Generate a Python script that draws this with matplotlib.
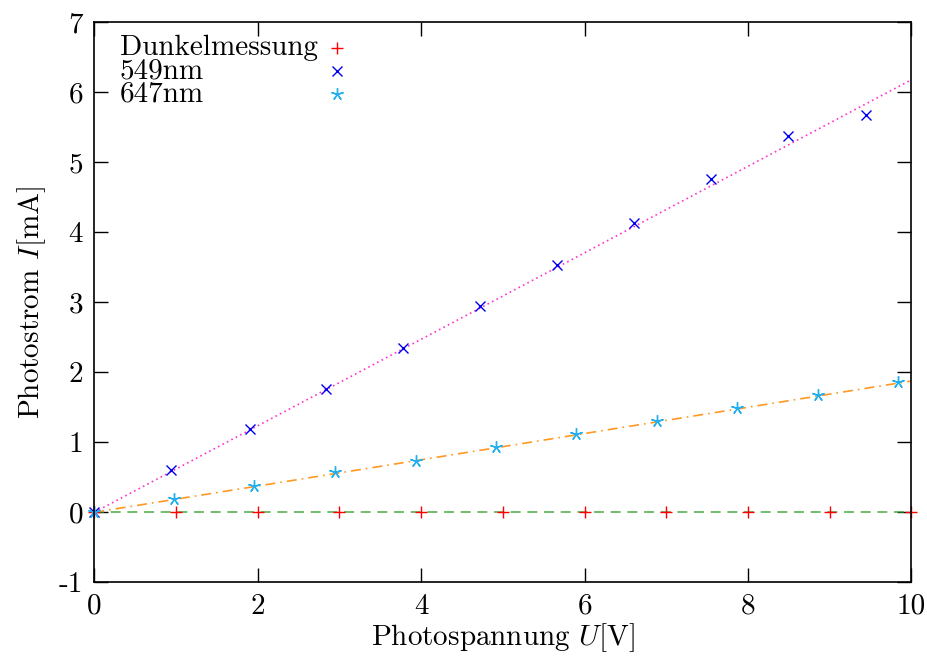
import matplotlib
matplotlib.use("Agg")
import matplotlib.pyplot as plt
import numpy as np

plt.rcParams['font.family'] = ['cmr10', 'DejaVu Serif']
plt.rcParams['mathtext.fontset'] = 'cm'
plt.rcParams['axes.formatter.use_mathtext'] = True

# Messwerte
u_dunkel = [0, 1, 2, 3, 4, 5, 6, 7, 8, 9, 10]
i_dunkel = [0, 0, 0, 0, 0, 0, 0, 0, 0, 0, 0]

u_549 = [0, 0.94, 1.90, 2.83, 3.78, 4.72, 5.66, 6.61, 7.55, 8.49, 9.44]
i_549 = [0, 0.61, 1.19, 1.76, 2.35, 2.95, 3.53, 4.13, 4.76, 5.37, 5.68]

u_647 = [0, 0.98, 1.96, 2.95, 3.94, 4.91, 5.90, 6.88, 7.86, 8.85, 9.83]
i_647 = [0, 0.19, 0.38, 0.57, 0.74, 0.93, 1.12, 1.30, 1.49, 1.67, 1.86]

# Fitparameter (I = m*U)
m_dunkel = 0.0
m_549 = 0.618
m_647 = 0.1876

xticks = [0, 2, 4, 6, 8, 10]
yticks = [-1, 0, 1, 2, 3, 4, 5, 6, 7]

fs = 21

fig = plt.figure(figsize=(9.28, 6.57), dpi=100)
ax = fig.add_axes([0.1016, 0.1137, 0.8806, 0.8523])

u_fit = np.linspace(0, 10, 200)
ax.plot(u_fit, m_dunkel * u_fit, color='#2ca02c', ls=(0, (6, 4)), lw=1.2, alpha=0.8)
ax.plot(u_fit, m_549 * u_fit, color='#ff33cc', ls=(0, (1, 2)), lw=1.2)
ax.plot(u_fit, m_647 * u_fit, color='#ff9922', ls=(0, (6, 3, 1, 3)), lw=1.2)

ax.plot(u_dunkel, i_dunkel, ls='none', marker='+', color='#ff0000', ms=9, mew=1.0, clip_on=False)
ax.plot(u_549, i_549, ls='none', marker='x', color='#0000ee', ms=6.5, mew=1.0, clip_on=False)
ax.plot(u_647, i_647, ls='none', marker=(5, 2, 0), color='#22b0ee', ms=9, mew=1.0, clip_on=False)

ax.set_xlim(0, 10)
ax.set_ylim(-1, 7)
ax.set_xticks(xticks)
ax.set_xticklabels([str(t) for t in xticks])
ax.set_yticks(yticks)
ax.set_yticklabels([str(t) for t in yticks])
ax.tick_params(direction='in', length=10, width=1, top=True, right=True, labelsize=fs, pad=8)
for s in ax.spines.values():
    s.set_linewidth(1.2)

ax.set_xlabel('Photospannung $U$[V]', fontsize=fs, labelpad=1)
ax.set_ylabel('Photostrom $I$[mA]', fontsize=fs, labelpad=8)

# Legende (Text links, Symbol rechts)
names = ['Dunkelmessung', '549nm', '647nm']
styles = [dict(marker='+', color='#ff0000', ms=9, mew=1.0),
          dict(marker='x', color='#0000ee', ms=6.5, mew=1.0),
          dict(marker=(5, 2, 0), color='#22b0ee', ms=9, mew=1.0)]
for k, (name, st) in enumerate(zip(names, styles)):
    yy = 0.955 - k * 0.0416
    ax.text(0.031, yy, name, transform=ax.transAxes, fontsize=fs, va='center', ha='left')
    ax.plot([0.297], [yy], transform=ax.transAxes, ls='none', **st)

fig.savefig('out.png', dpi=100)
